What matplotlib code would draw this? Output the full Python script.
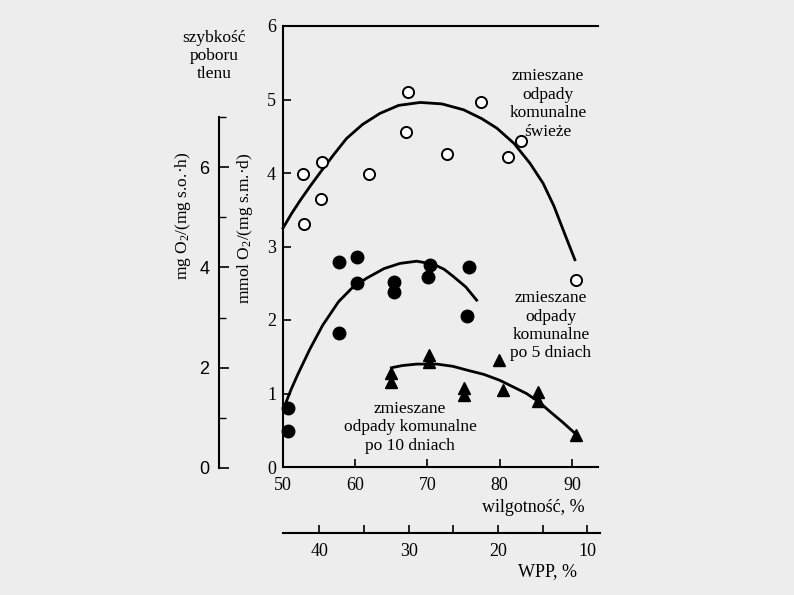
import matplotlib
matplotlib.use('Agg')
import matplotlib.pyplot as plt
import matplotlib as mpl
from matplotlib.ticker import MultipleLocator

# Set plot parameters
mpl.rcParams['font.family'] = 'Liberation Serif'
mpl.rcParams['font.size'] = 12.5
mpl.rcParams['mathtext.fontset'] = 'custom'
mpl.rcParams['mathtext.rm'] = 'Liberation Serif'
mpl.rcParams['mathtext.it'] = 'Liberation Serif:italic'

# data (moisture %, oxygen uptake mmol O2/(mg s.m. d))
fresh_x = [52.7, 55.4, 55.2, 52.9, 61.9, 67.3, 67.0, 72.7, 77.4, 81.1, 83.0, 90.6]
fresh_y = [3.99, 4.15, 3.65, 3.31, 3.98, 5.10, 4.56, 4.26, 4.96, 4.22, 4.43, 2.54]
fresh_curve_x = [50.0, 51.2, 52.4, 53.9, 55.4, 57.1, 58.8, 61.0, 63.4, 66.0, 69.0,
                 72.0, 75.0, 77.5, 79.6, 82.0, 84.2, 86.0, 87.5, 89.0, 90.4]
fresh_curve_y = [3.25, 3.45, 3.63, 3.84, 4.04, 4.26, 4.47, 4.66, 4.81, 4.92, 4.96,
                 4.94, 4.86, 4.74, 4.61, 4.40, 4.13, 3.86, 3.55, 3.17, 2.82]

day5_x = [50.65, 50.65, 57.75, 57.75, 60.3, 60.3, 65.3, 65.3, 70.4, 70.1, 75.75, 75.4]
day5_y = [0.80, 0.49, 2.79, 1.82, 2.86, 2.51, 2.52, 2.38, 2.75, 2.58, 2.72, 2.05]
day5_curve_x = [50.3, 51.1, 52.0, 53.7, 55.5, 57.7, 59.5, 61.6, 64.0, 66.2, 68.5,
                70.8, 72.3, 73.6, 75.3, 76.8]
day5_curve_y = [0.85, 1.05, 1.25, 1.60, 1.93, 2.25, 2.43, 2.57, 2.70, 2.77, 2.80,
                2.76, 2.69, 2.59, 2.45, 2.27]

day10_x = [65.0, 65.0, 70.2, 70.2, 75.1, 75.1, 79.95, 80.5, 85.3, 85.3, 90.55]
day10_y = [1.28, 1.16, 1.53, 1.43, 1.08, 0.98, 1.46, 1.05, 1.02, 0.90, 0.44]
day10_curve_x = [65.0, 66.5, 68.5, 71.3, 73.5, 75.4, 77.8, 80.0, 83.7, 85.5, 87.0,
                 88.7, 90.4]
day10_curve_y = [1.35, 1.38, 1.40, 1.40, 1.37, 1.32, 1.26, 1.18, 1.00, 0.88, 0.75,
                 0.61, 0.46]

moist_ticks = [50, 60, 70, 80, 90]
wpp_major = [40, 30, 20, 10]
wpp_minor = [35, 25, 15]
left_major = [0, 2, 4, 6]

bg = '#ededed'
fig = plt.figure(figsize=(7.94, 5.95), dpi=100, facecolor=bg)

# main axes
ax = fig.add_axes([283/794, 128/595, 315/794, 441/595])
ax.set_facecolor('none')
ax.set_xlim(50, 93.6)
ax.set_ylim(0, 6)
for s in ['left', 'bottom', 'top']:
    ax.spines[s].set_linewidth(1.5)
ax.spines['right'].set_visible(False)
ax.set_xticks(moist_ticks)
ax.set_yticks(range(0, 7))
ax.tick_params(direction='in', length=6, width=1.2, labelsize=13, pad=5)
ax.tick_params(axis='x', pad=7)

ax.plot(fresh_curve_x, fresh_curve_y, color='black', lw=2, clip_on=False)
ax.plot(day5_curve_x, day5_curve_y, color='black', lw=2, clip_on=False)
ax.plot(day10_curve_x, day10_curve_y, color='black', lw=2, clip_on=False)
ax.plot(fresh_x, fresh_y, 'o', ms=8, mfc='white', mec='black', mew=1.4, clip_on=False)
ax.plot(day5_x, day5_y, 'o', ms=9, color='black', clip_on=False)
ax.plot(day10_x, day10_y, '^', ms=8, color='black', clip_on=False)

ax.text(86.7, 4.94, 'zmieszane\nodpady\nkomunalne\nświeże', ha='center', va='center',
        linespacing=1.2, fontsize=12.5)
ax.text(87.1, 1.92, 'zmieszane\nodpady\nkomunalne\npo 5 dniach', ha='center', va='center',
        linespacing=1.2, fontsize=12.5)
ax.text(67.6, 0.54, 'zmieszane\nodpady komunalne\npo 10 dniach', ha='center', va='center',
        linespacing=1.2, fontsize=12.5)

# left extra axis, mg O2/(mg s.o. h)
axl = fig.add_axes([219/794, 127/595, 0.001, 351/595])
axl.set_facecolor('none')
for s in ['right', 'bottom', 'top']:
    axl.spines[s].set_visible(False)
axl.spines['left'].set_linewidth(1.5)
axl.set_xticks([])
axl.set_ylim(0, 7)
axl.set_yticks(left_major)
axl.yaxis.set_minor_locator(MultipleLocator(1))
axl.tick_params(axis='y', which='major', direction='in', length=7, width=1.2, pad=7)
axl.tick_params(axis='y', which='minor', direction='in', length=5, width=1.0)
for lab in axl.get_yticklabels():
    lab.set_family('Liberation Sans')
    lab.set_fontsize(13)

# WPP axis
axw = fig.add_axes([283/794, 62/595, 317/794, 0.001])
axw.set_facecolor('none')
for s in ['left', 'right', 'top']:
    axw.spines[s].set_visible(False)
axw.spines['bottom'].set_linewidth(1.5)
axw.set_yticks([])
axw.set_xlim(44.07, 8.57)
axw.set_xticks(wpp_major)
axw.set_xticks(wpp_minor, minor=True)
axw.tick_params(axis='x', which='both', direction='in', length=6, width=1.2, labelsize=13, pad=7)

fig.text(533/794, 87/595, 'wilgotność, %', ha='center', va='center', fontsize=13)
fig.text(547/794, 23/595, 'WPP, %', ha='center', va='center', fontsize=13)
fig.text(214/794, 539/595, 'szybkość\npoboru\ntlenu', ha='center', va='center',
         linespacing=1.15, fontsize=12.5)
fig.text(183/794, 379/595, 'mg O$_2$/(mg s.o.·h)', ha='center', va='center',
         rotation=90, fontsize=12.5)
fig.text(245/794, 367/595, 'mmol O$_2$/(mg s.m.·d)', ha='center', va='center',
         rotation=90, fontsize=12.5)

fig.savefig('out.png', dpi=100, facecolor=bg)
